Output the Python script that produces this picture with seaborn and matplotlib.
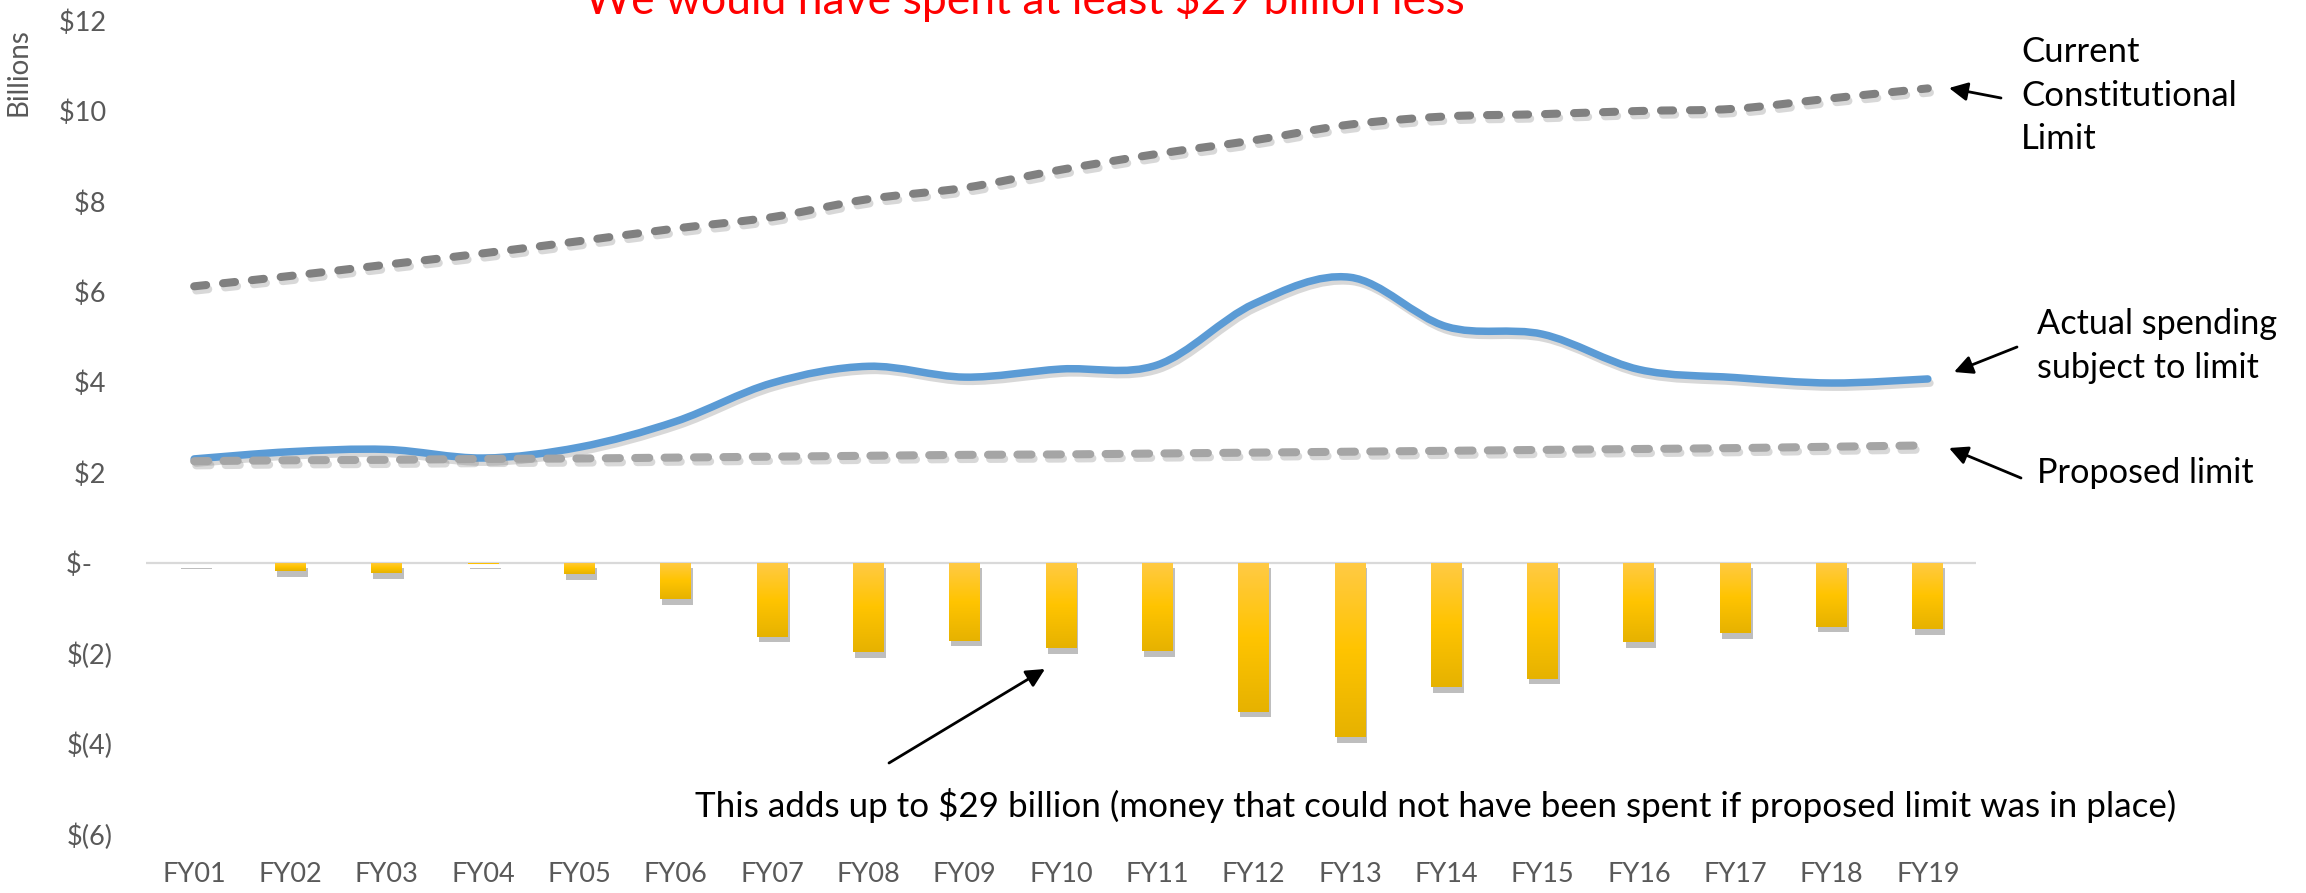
import numpy as np
import pandas as pd
import matplotlib
matplotlib.use("Agg")
import matplotlib.pyplot as plt
import seaborn as sns
from matplotlib.path import Path
from matplotlib.patches import PathPatch
import matplotlib.patheffects as pe
from matplotlib.colors import LinearSegmentedColormap

# ---------------- data (billions of dollars) ----------------
years = ["FY01", "FY02", "FY03", "FY04", "FY05", "FY06", "FY07", "FY08", "FY09", "FY10",
         "FY11", "FY12", "FY13", "FY14", "FY15", "FY16", "FY17", "FY18", "FY19"]
constitutional_limit = [6.12, 6.35, 6.60, 6.85, 7.12, 7.40, 7.65, 8.05, 8.30, 8.70,
                        9.05, 9.35, 9.70, 9.88, 9.93, 10.00, 10.05, 10.28, 10.50]
actual_spending = [2.30, 2.46, 2.51, 2.32, 2.56, 3.13, 3.98, 4.35, 4.11, 4.29,
                   4.38, 5.73, 6.32, 5.23, 5.06, 4.28, 4.10, 3.98, 4.07]
proposed_limit = [2.25, 2.27, 2.28, 2.30, 2.31, 2.33, 2.35, 2.37, 2.39, 2.40,
                  2.42, 2.44, 2.46, 2.48, 2.50, 2.52, 2.54, 2.57, 2.60]
difference = [-0.01, -0.19, -0.23, -0.02, -0.25, -0.80, -1.63, -1.98, -1.72, -1.89,
              -1.96, -3.29, -3.86, -2.75, -2.56, -1.76, -1.56, -1.41, -1.47]
ytick_values = [12, 10, 8, 6, 4, 2, 0, -2, -4, -6]
ytick_labels = ["$12 ", "$10 ", "$8 ", "$6 ", "$4 ", "$2 ", "$-   ", "$(2)", "$(4)", "$(6)"]

title_text = "We would have spent at least $29 billion less"
label_constitutional = "Current\nConstitutional\nLimit"
label_actual = "Actual spending\nsubject to limit"
label_proposed = "Proposed limit"
label_total = ("This adds up to $29 billion (money that could not have been spent "
               "if proposed limit was in place)")

# ---------------- style ----------------
sns.set_theme(style="white")
plt.rcParams["font.family"] = ["Lato", "DejaVu Sans"]
plt.rcParams["text.parse_math"] = False

W, H = 2306, 893
fig = plt.figure(figsize=(W / 100, H / 100), dpi=100)
fig.patch.set_facecolor("white")
ax_left, ax_right, ax_top, ax_bottom = 146, 1976, 20.6, 834
ax = fig.add_axes([ax_left / W, 1 - ax_bottom / H,
                   (ax_right - ax_left) / W, (ax_bottom - ax_top) / H])
ax.set_facecolor("white")

# ---------------- bars ----------------
df = pd.DataFrame({"year": years, "diff": difference})
sns.barplot(data=df, x="year", y="diff", order=years, color="#FFC000",
            width=0.32, saturation=1, ax=ax, zorder=2, linewidth=0)

gold = LinearSegmentedColormap.from_list("gold", ["#FFCA45", "#FFC400", "#E6B200"])
grad = np.linspace(0, 1, 256).reshape(-1, 1)
for p in list(ax.patches):
    x0, y0, w, h = p.get_x(), p.get_y(), p.get_width(), p.get_height()
    top, bot = max(y0, y0 + h), min(y0, y0 + h)
    p.set_path_effects([pe.SimplePatchShadow(offset=(1.5, -4), shadow_rgbFace="#707070",
                                             alpha=0.45), pe.Normal()])
    if top - bot < 0.03:
        continue
    im = ax.imshow(grad, cmap=gold, aspect="auto", extent=(x0, x0 + w, bot, top),
                   origin="upper", zorder=2.1, interpolation="bilinear")
    im.set_clip_path(p)

ax.axhline(0, color="#D9D9D9", lw=1.6, zorder=1)


# ---------------- smoothed lines ----------------
def smooth_path(xs, ys):
    pts = np.column_stack([xs, ys]).astype(float)
    n = len(pts)
    verts = [pts[0]]
    codes = [Path.MOVETO]
    for i in range(n - 1):
        p0 = pts[i - 1] if i > 0 else pts[i]
        p1, p2 = pts[i], pts[i + 1]
        p3 = pts[i + 2] if i + 2 < n else pts[i + 1]
        verts += [p1 + (p2 - p0) / 6.0, p2 - (p3 - p1) / 6.0, p2]
        codes += [Path.CURVE4] * 3
    return Path(verts, codes)


xs = np.arange(len(years))
shadow = [pe.SimpleLineShadow(offset=(1.5, -3), shadow_color="#808080", alpha=0.3), pe.Normal()]

line_specs = [
    (constitutional_limit, "#808080", 5.8, (0, (1.5, 2.1)), 3),
    (actual_spending, "#5B9BD5", 5.4, "solid", 3.1),
    (proposed_limit, "#A5A5A5", 5.8, (0, (1.75, 1.9)), 3.2),
]
for vals, col, lw, ls, z in line_specs:
    patch = PathPatch(smooth_path(xs, vals), fill=False, edgecolor=col, lw=lw,
                      linestyle=ls, zorder=z, capstyle="round", joinstyle="round")
    patch.set_path_effects(shadow)
    ax.add_patch(patch)

# ---------------- axes ----------------
ax.set_xlim(-0.5, 18.5)
ax.set_ylim(-6, 12)
ax.set_yticks(ytick_values)
ax.set_yticklabels(ytick_labels)
ax.set_xlabel("")
ax.set_ylabel("")
for s in ax.spines.values():
    s.set_visible(False)
ax.tick_params(axis="both", length=0, colors="#595959", labelsize=19.5)
ax.tick_params(axis="x", pad=20)
ax.tick_params(axis="y", pad=24)
ax.grid(False)

# ---------------- texts ----------------
fig.text(19 / W, 1 - 72 / H, "Billions", rotation=90, ha="center", va="center",
         color="#595959", fontsize=20)
fig.text(1025 / W, 1 - 14 / H, title_text, ha="center", va="baseline",
         color="#FF0000", fontsize=32)
fig.text(2021 / W, 1 - 36 / H, label_constitutional, ha="left", va="top",
         color="black", fontsize=25, linespacing=1.45)
fig.text(2037 / W, 1 - 308 / H, label_actual, ha="left", va="top",
         color="black", fontsize=24.7, linespacing=1.45)
fig.text(2037 / W, 1 - 457 / H, label_proposed, ha="left", va="top",
         color="black", fontsize=24.7)
fig.text(1436 / W, 1 - 817 / H, label_total, ha="center", va="baseline",
         color="black", fontsize=25.2)

arrow = dict(arrowstyle="-|>", color="black", lw=2, mutation_scale=28, shrinkA=0, shrinkB=0)
for head, tail in [((1949, 88), (2001, 98)),
                   ((1954, 372), (2017, 347)),
                   ((1949, 448), (2021, 478)),
                   ((1045, 669), (889, 763))]:
    ax.annotate("", xy=(head[0], H - head[1]), xycoords="figure pixels",
                xytext=(tail[0], H - tail[1]), textcoords="figure pixels",
                arrowprops=arrow, annotation_clip=False)

fig.savefig("out.png", dpi=100, facecolor="white")
